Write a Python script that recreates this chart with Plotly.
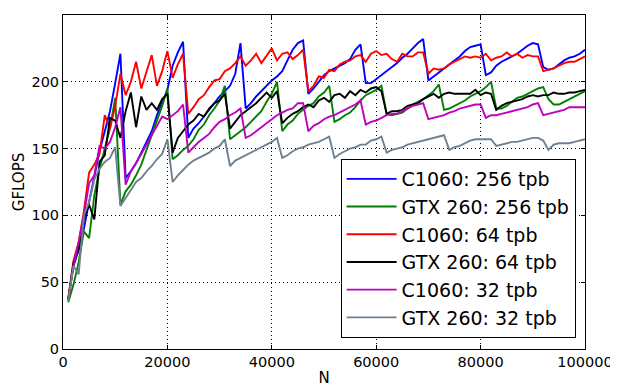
import plotly.graph_objects as go

N = [k * 1000 for k in range(1, 101)]

c1060_256 = [37, 62, 74, 90, 110, 128, 148, 163, 178, 199, 221, 128, 133, 139, 147, 155, 163, 175, 185, 194,
             212, 222, 230, 158, 165, 169, 174, 179, 184, 189, 193, 197, 206, 229, 180, 184, 189, 193, 197, 201,
             204, 208, 216, 224, 229, 231, 191, 195, 200, 205, 208, 210, 212, 214, 217, 224, 228, 199, 199, 202,
             205, 208, 211, 214, 218, 221, 225, 229, 232, 201, 204, 207, 210, 213, 216, 219, 223, 226, 227, 228,
             205, 207, 212, 215, 217, 219, 221, 224, 227, 229, 228, 211, 209, 210, 213, 216, 218, 219, 221, 224]

gtx260_256 = [35, 48, 65, 88, 83, 115, 135, 150, 165, 188, 108, 118, 123, 130, 138, 149, 160, 170, 182, 195,
              142, 145, 149, 152, 157, 164, 168, 175, 180, 186, 197, 157, 160, 163, 166, 170, 174, 178, 185, 191,
              200, 163, 168, 171, 176, 179, 182, 184, 189, 192, 197, 170, 172, 175, 177, 181, 186, 190, 192, 194,
              197, 176, 175, 176, 177, 180, 183, 185, 187, 190, 193, 198, 179, 180, 182, 184, 186, 189, 191, 193,
              196, 200, 180, 180, 182, 185, 188, 189, 191, 193, 195, 196, 187, 183, 183, 185, 187, 189, 191, 193]

c1060_64 = [38, 66, 80, 103, 132, 138, 146, 175, 165, 182, 206, 190, 200, 215, 195, 208, 220, 197, 208, 223,
            203, 213, 221, 176, 181, 187, 190, 196, 201, 202, 208, 210, 214, 219, 212, 216, 221, 214, 220, 225,
            216, 221, 222, 217, 220, 224, 193, 197, 204, 203, 209, 208, 213, 215, 216, 219, 220, 215, 221, 223,
            220, 221, 217, 215, 221, 219, 219, 222, 222, 206, 210, 209, 210, 213, 215, 217, 219, 218, 219, 218,
            221, 216, 218, 219, 222, 219, 221, 218, 220, 219, 219, 208, 209, 210, 212, 214, 215, 215, 217, 219]

gtx260_64 = [37, 64, 75, 98, 108, 97, 140, 145, 173, 171, 158, 178, 192, 166, 189, 179, 184, 179, 187, 191,
             147, 158, 163, 168, 171, 176, 174, 180, 184, 186, 191, 165, 170, 175, 178, 181, 184, 188, 192, 188,
             193, 169, 173, 176, 178, 181, 183, 181, 186, 188, 185, 190, 191, 188, 193, 190, 194, 192, 195, 196,
             193, 176, 178, 178, 179, 182, 183, 184, 187, 189, 191, 188, 191, 192, 191, 191, 191, 191, 194, 190,
             192, 191, 179, 182, 184, 185, 186, 187, 189, 190, 189, 190, 190, 192, 191, 191, 192, 192, 193, 194]

c1060_32 = [37, 62, 80, 100, 124, 130, 152, 150, 155, 166, 181, 123, 133, 139, 146, 153, 160, 167, 174, 172,
            175, 178, 183, 147, 151, 155, 158, 161, 166, 170, 172, 175, 177, 180, 158, 160, 163, 166, 169, 172,
            175, 177, 179, 180, 184, 184, 163, 167, 169, 172, 174, 175, 177, 179, 181, 183, 186, 168, 170, 171,
            173, 175, 176, 176, 178, 180, 182, 183, 184, 172, 173, 174, 175, 177, 178, 180, 181, 182, 183, 183,
            173, 175, 175, 176, 177, 178, 179, 180, 181, 183, 184, 175, 176, 177, 178, 179, 181, 181, 181, 181]

gtx260_32 = [36, 62, 56, 100, 110, 127, 135, 140, 143, 151, 107, 113, 119, 125, 128, 133, 137, 142, 146, 157,
             125, 130, 134, 138, 141, 143, 145, 147, 150, 152, 157, 137, 141, 143, 145, 147, 149, 151, 153, 155,
             158, 143, 145, 148, 150, 151, 153, 154, 155, 157, 159, 143, 146, 148, 150, 151, 153, 153, 156, 157,
             159, 147, 149, 150, 151, 153, 154, 155, 156, 157, 158, 159, 160, 149, 151, 152, 154, 156, 157, 157,
             157, 157, 152, 153, 154, 155, 155, 156, 157, 158, 158, 156, 149, 153, 154, 154, 154, 155, 156, 157]

series_names = ["C1060: 256 tpb", "GTX 260: 256 tpb", "C1060: 64 tpb",
                "GTX 260: 64 tpb", "C1060: 32 tpb", "GTX 260: 32 tpb"]
series_values = [c1060_256, gtx260_256, c1060_64, gtx260_64, c1060_32, gtx260_32]
series_colors = ["#0000ff", "#008000", "#ff0000", "#000000", "#bf00bf", "#708090"]

x_ticks = [0, 20000, 40000, 60000, 80000, 100000]
y_ticks = [0, 50, 100, 150, 200, 250]

FONT = "DejaVu Sans"

fig = go.Figure()
for i, (name, vals, col) in enumerate(zip(series_names, series_values, series_colors)):
    fig.add_trace(go.Scatter(x=N, y=vals, mode="lines", name=name, legendgroup=f"g{i}",
                             line=dict(color=col, width=1.9)))

axis_common = dict(showline=True, linecolor="black", linewidth=1, mirror="ticks",
                   ticks="inside", ticklen=4, tickcolor="black", automargin=False,
                   showgrid=True, gridcolor="black", gridwidth=1, griddash="1px,3px",
                   zeroline=False, tickfont=dict(family=FONT, size=14.5, color="black"))

fig.update_xaxes(range=[0, 100000], tickvals=x_ticks, ticktext=[str(v) for v in x_ticks],
                 title=dict(text="N", font=dict(family=FONT, size=15, color="black"), standoff=3),
                 **axis_common)
fig.update_yaxes(range=[0, 250], tickvals=y_ticks, ticktext=[str(v) for v in y_ticks],
                 title=dict(text="GFLOPS", font=dict(family=FONT, size=15, color="black"), standoff=3),
                 **axis_common)

# page body has an 8px margin: size/margins compensate so the plot lands where the reference has it
fig.update_layout(
    width=610, height=380,
    margin=dict(l=55, r=33, t=7, b=39, autoexpand=False),
    paper_bgcolor="white", plot_bgcolor="white",
    font=dict(family=FONT, color="black"),
    legend=dict(x=0.982, y=0.033, xanchor="right", yanchor="bottom",
                bgcolor="white", bordercolor="black", borderwidth=1,
                font=dict(family=FONT, size=19, color="black"),
                itemwidth=50, tracegroupgap=0),
    showlegend=True,
)

fig.write_html(
    "out.html",
    post_script="document.documentElement.style.overflow='hidden';document.body.style.overflow='hidden';",
)
